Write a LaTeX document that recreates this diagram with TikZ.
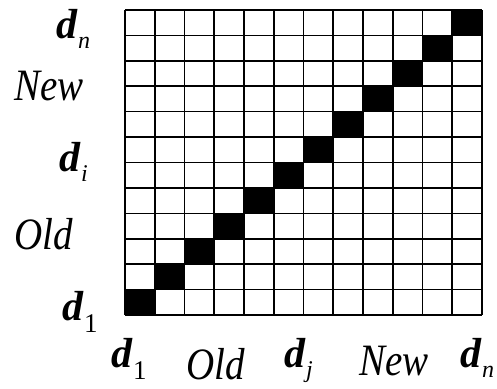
\documentclass[tikz,border=0pt]{standalone}
\usepackage{fontspec}
\setmainfont{Liberation Serif}
\newcommand{\dsub}[2]{\raisebox{-#2pt}{\fontsize{#1}{#1}\selectfont\itshape}}
\newcommand{\dl}{{\fontsize{42}{42}\selectfont\bfseries\itshape d}\kern1pt}
\newcommand{\dlet}[1]{\dl\raisebox{-10pt}{\fontsize{24}{24}\selectfont\itshape #1}}
\newcommand{\done}{\dl\raisebox{-12pt}{\fontsize{27}{27}\selectfont 1}}
\newcommand{\wlab}[1]{\scalebox{1}[1.15]{\fontsize{39}{39}\selectfont\itshape #1}}
\begin{document}
\begin{tikzpicture}[x=1pt,y=-1pt,
  lab/.style={inner sep=0pt,anchor=base west},
  gridline/.style={line width=1.6pt,black},
  cell/.style={fill=black}]
\useasboundingbox (0,0) rectangle (497,388);
% grid: x 125..482 (12 cols), y 10..315 (12 rows)
\foreach \i in {0,...,11}{
  \fill[cell] ({125+\i*29.75},{315-(\i+1)*25.4167}) rectangle ({125+(\i+1)*29.75},{315-\i*25.4167});
}
\foreach \i in {0,...,12}{
  \draw[gridline] ({125+\i*29.75},10) -- ({125+\i*29.75},315);
  \draw[gridline] (125,{10+\i*25.4167}) -- (482,{10+\i*25.4167});
}
% left labels
\node[lab] (ldn) at (56,38) {\dlet{n}};
\node[lab] (lnew) at (14,100) {\wlab{New}};
\node[lab] (ldi) at (59,171) {\dlet{i}};
\node[lab] (lold) at (14,249) {\wlab{Old}};
\node[lab] (ld1) at (62,320) {\done};
% bottom labels
\node[lab] (bd1) at (111,367) {\done};
\node[lab] (bold) at (186,379) {\wlab{Old}};
\node[lab] (bdj) at (284,367) {\dlet{j}};
\node[lab] (bnew) at (359,375) {\wlab{New}};
\node[lab] (bdn) at (460,367) {\dlet{n}};
\end{tikzpicture}
\end{document}
